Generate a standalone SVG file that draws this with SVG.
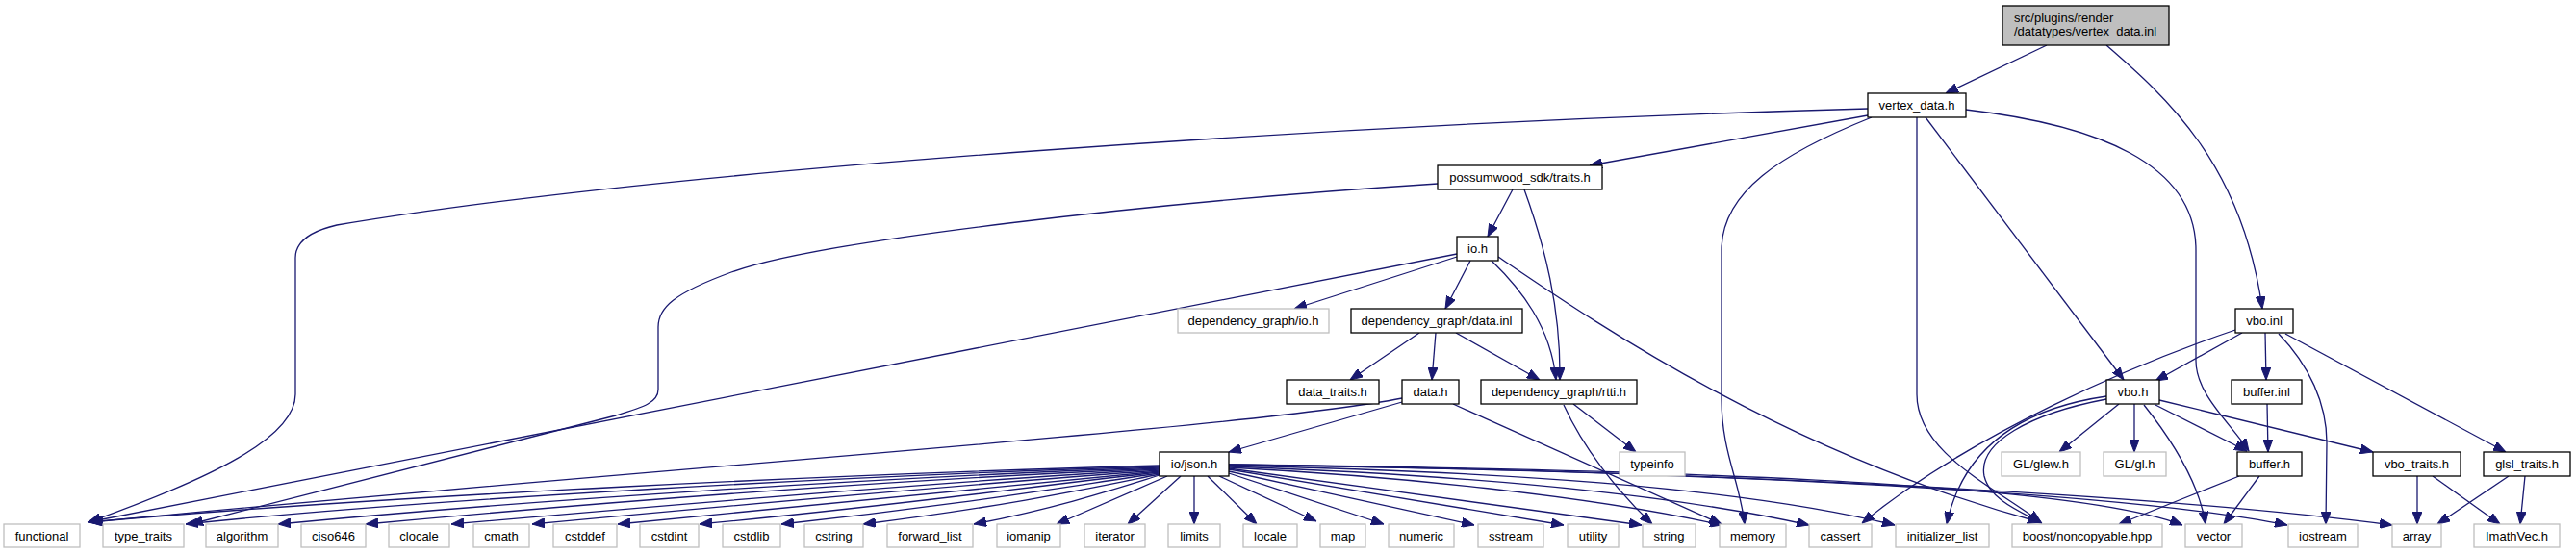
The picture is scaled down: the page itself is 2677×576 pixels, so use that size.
<svg xmlns="http://www.w3.org/2000/svg" width="2677" height="576" viewBox="0 0 2677 576">
<style>
.bg{fill:#ffffff}
.n rect{fill:#ffffff;stroke:#000000;stroke-width:1.3}
.x rect{fill:#ffffff;stroke:#bfbfbf;stroke-width:1.3}
.r rect{fill:#bfbfbf;stroke:#000000;stroke-width:1.3}
text{font-family:"Liberation Sans",Arial,Helvetica,sans-serif;font-size:13px;fill:#000000;text-anchor:middle}
.r text{text-anchor:start}
#edges path{fill:none;stroke:#191970;stroke-width:1.3;marker-end:url(#ah)}
</style>
<defs>
<marker id="ah" viewBox="0 0 13 10" refX="13" refY="5" markerWidth="13" markerHeight="10" markerUnits="userSpaceOnUse" orient="auto">
<path d="M0,0 L13,5 L0,10 z" fill="#191970" stroke="#191970" stroke-width="1"/>
</marker>
</defs>
<rect class="bg" x="0" y="0" width="2677" height="576"/>
<g id="edges">
<path d="M2127,47 L2022,97"/>
<path d="M2189,47 C2250,100 2330,170 2351,321"/>
<path d="M1941,113 C1400,128 700,175 350,234 C320,241 307,252 307,268 L307,410 C307,455 220,497 92,543"/>
<path d="M1941,120 L1652,172"/>
<path d="M1945,122 C1850,160 1789,200 1789,260 L1789,415 C1789,470 1808,500 1813,545"/>
<path d="M1992,122 L1992,410 C1992,470 2070,505 2121,543"/>
<path d="M2001,122 L2207,395"/>
<path d="M2043,114 C2180,130 2282,170 2282,260 L2282,375 C2282,410 2318,440 2337,469"/>
<path d="M2330,346 L2240,396"/>
<path d="M2323,343 C2220,378 2050,450 1935,544"/>
<path d="M2354,346 L2355,395"/>
<path d="M2368,347 C2400,380 2418,420 2418,460 L2417,545"/>
<path d="M2375,347 L2604,470"/>
<path d="M2202,420 L2140,470"/>
<path d="M2218,420 L2218,470"/>
<path d="M2228,421 C2255,455 2285,500 2292,545"/>
<path d="M2240,421 L2335,469"/>
<path d="M2244,416 L2466,470"/>
<path d="M2189,412 C2100,425 2040,465 2023,545"/>
<path d="M2189,415 C2110,430 2055,460 2062,495 C2068,520 2100,532 2122,544"/>
<path d="M2356,420 L2357,470"/>
<path d="M2327,495 L2202,545"/>
<path d="M2348,495 L2311,545"/>
<path d="M2512,495 L2512,545"/>
<path d="M2528,495 L2598,545"/>
<path d="M2607,495 L2533,545"/>
<path d="M2624,495 L2619,545"/>
<path d="M1572,197 L1546,246"/>
<path d="M1584,197 C1605,255 1622,320 1621,395"/>
<path d="M1494,191 C1200,210 850,250 760,283 C700,305 684,320 684,340 L684,405 C684,418 670,423 640,432 L198,545"/>
<path d="M1514,267 L1345,321"/>
<path d="M1514,264 L91,543"/>
<path d="M1528,271 L1502,321"/>
<path d="M1550,271 C1580,300 1612,340 1617,395"/>
<path d="M1557,267 C1650,330 1850,470 2120,543"/>
<path d="M1475,346 L1403,395"/>
<path d="M1492,346 L1488,395"/>
<path d="M1513,346 L1600,395"/>
<path d="M1457,418 L1277,470"/>
<path d="M1457,414 C1300,445 700,485 94,543"/>
<path d="M1510,420 L1789,545"/>
<path d="M1635,420 L1700,470"/>
<path d="M1625,421 C1645,465 1680,510 1717,545"/>
<path d="M1205,484 C900,492 400,515 93,543"/>
<path d="M1205,485 C900,494 450,518 193,545"/>
<path d="M1205,486 C920,496 550,520 289,545"/>
<path d="M1205,487 C950,498 650,520 380,545"/>
<path d="M1205,488 C1000,499 730,522 469,545"/>
<path d="M1205,489 C1050,500 800,522 553,545"/>
<path d="M1205,490 C1080,501 880,523 642,545"/>
<path d="M1205,491 C1100,502 950,524 727,545"/>
<path d="M1205,492 C1120,504 1000,525 812,545"/>
<path d="M1205,493 C1140,506 1050,526 897,545"/>
<path d="M1205,494 C1160,508 1100,528 1012,545"/>
<path d="M1213,495 L1098,545"/>
<path d="M1227,495 L1172,545"/>
<path d="M1241,495 L1241,545"/>
<path d="M1255,495 L1306,545"/>
<path d="M1267,495 L1368,542"/>
<path d="M1277,492 L1438,545"/>
<path d="M1277,490 L1532,546"/>
<path d="M1277,488 L1625,546"/>
<path d="M1277,487 L1706,546"/>
<path d="M1277,486 C1450,495 1650,515 1790,546"/>
<path d="M1277,485 C1500,493 1720,510 1880,546"/>
<path d="M1277,484 C1550,490 1800,505 1969,546"/>
<path d="M1277,483 C1700,488 2150,500 2268,546"/>
<path d="M1277,483 C1750,490 2200,510 2377,546"/>
<path d="M1277,483 C1800,490 2250,515 2486,546"/>
</g>
<g id="n_root" class="r"><rect x="2081" y="6" width="173" height="41"/><text x="2093" y="23">src/plugins/render</text><text x="2093" y="37">/datatypes/vertex_data.inl</text></g>
<g id="n_vertex_data_h" class="n"><rect x="1941" y="97" width="102" height="25"/><text x="1992" y="114">vertex_data.h</text></g>
<g id="n_traits_h" class="n"><rect x="1494" y="172" width="171" height="25"/><text x="1579.5" y="189">possumwood_sdk/traits.h</text></g>
<g id="n_io_h" class="n"><rect x="1514" y="246" width="43" height="25"/><text x="1535.5" y="263">io.h</text></g>
<g id="n_dg_io_h" class="x"><rect x="1224" y="321" width="157" height="25"/><text x="1302.5" y="338">dependency_graph/io.h</text></g>
<g id="n_dg_data_inl" class="n"><rect x="1404" y="321" width="178" height="25"/><text x="1493" y="338">dependency_graph/data.inl</text></g>
<g id="n_vbo_inl" class="n"><rect x="2323" y="321" width="60" height="25"/><text x="2353" y="338">vbo.inl</text></g>
<g id="n_data_traits_h" class="n"><rect x="1337" y="395" width="96" height="25"/><text x="1385" y="412">data_traits.h</text></g>
<g id="n_data_h" class="n"><rect x="1457" y="395" width="59" height="25"/><text x="1486.5" y="412">data.h</text></g>
<g id="n_rtti_h" class="n"><rect x="1539" y="395" width="162" height="25"/><text x="1620" y="412">dependency_graph/rtti.h</text></g>
<g id="n_vbo_h" class="n"><rect x="2189" y="395" width="55" height="25"/><text x="2216.5" y="412">vbo.h</text></g>
<g id="n_buffer_inl" class="n"><rect x="2319" y="395" width="73" height="25"/><text x="2355.5" y="412">buffer.inl</text></g>
<g id="n_json_h" class="n"><rect x="1205" y="470" width="72" height="25"/><text x="1241" y="487">io/json.h</text></g>
<g id="n_typeinfo" class="x"><rect x="1683" y="470" width="68" height="25"/><text x="1717" y="487">typeinfo</text></g>
<g id="n_glew" class="x"><rect x="2080" y="470" width="82" height="25"/><text x="2121" y="487">GL/glew.h</text></g>
<g id="n_gl" class="x"><rect x="2186" y="470" width="65" height="25"/><text x="2218.5" y="487">GL/gl.h</text></g>
<g id="n_buffer_h" class="n"><rect x="2325" y="470" width="67" height="25"/><text x="2358.5" y="487">buffer.h</text></g>
<g id="n_vbo_traits_h" class="n"><rect x="2466" y="470" width="91" height="25"/><text x="2511.5" y="487">vbo_traits.h</text></g>
<g id="n_glsl_traits_h" class="n"><rect x="2581" y="470" width="90" height="25"/><text x="2626" y="487">glsl_traits.h</text></g>
<g id="n_functional" class="x"><rect x="4" y="545" width="79" height="24"/><text x="43.5" y="562">functional</text></g>
<g id="n_type_traits" class="x"><rect x="107" y="545" width="84" height="24"/><text x="149" y="562">type_traits</text></g>
<g id="n_algorithm" class="x"><rect x="214" y="545" width="75" height="24"/><text x="251.5" y="562">algorithm</text></g>
<g id="n_ciso646" class="x"><rect x="313" y="545" width="67" height="24"/><text x="346.5" y="562">ciso646</text></g>
<g id="n_clocale" class="x"><rect x="404" y="545" width="63" height="24"/><text x="435.5" y="562">clocale</text></g>
<g id="n_cmath" class="x"><rect x="492" y="545" width="58" height="24"/><text x="521" y="562">cmath</text></g>
<g id="n_cstddef" class="x"><rect x="575" y="545" width="66" height="24"/><text x="608" y="562">cstddef</text></g>
<g id="n_cstdint" class="x"><rect x="665" y="545" width="61" height="24"/><text x="695.5" y="562">cstdint</text></g>
<g id="n_cstdlib" class="x"><rect x="751" y="545" width="60" height="24"/><text x="781" y="562">cstdlib</text></g>
<g id="n_cstring" class="x"><rect x="836" y="545" width="61" height="24"/><text x="866.5" y="562">cstring</text></g>
<g id="n_forward_list" class="x"><rect x="922" y="545" width="89" height="24"/><text x="966.5" y="562">forward_list</text></g>
<g id="n_iomanip" class="x"><rect x="1036" y="545" width="66" height="24"/><text x="1069" y="562">iomanip</text></g>
<g id="n_iterator" class="x"><rect x="1127" y="545" width="63" height="24"/><text x="1158.5" y="562">iterator</text></g>
<g id="n_limits" class="x"><rect x="1214" y="545" width="54" height="24"/><text x="1241" y="562">limits</text></g>
<g id="n_locale" class="x"><rect x="1292" y="545" width="56" height="24"/><text x="1320" y="562">locale</text></g>
<g id="n_map" class="x"><rect x="1372" y="545" width="47" height="24"/><text x="1395.5" y="562">map</text></g>
<g id="n_numeric" class="x"><rect x="1443" y="545" width="68" height="24"/><text x="1477" y="562">numeric</text></g>
<g id="n_sstream" class="x"><rect x="1536" y="545" width="68" height="24"/><text x="1570" y="562">sstream</text></g>
<g id="n_utility" class="x"><rect x="1629" y="545" width="53" height="24"/><text x="1655.5" y="562">utility</text></g>
<g id="n_string" class="x"><rect x="1707" y="545" width="55" height="24"/><text x="1734.5" y="562">string</text></g>
<g id="n_memory" class="x"><rect x="1787" y="545" width="69" height="24"/><text x="1821.5" y="562">memory</text></g>
<g id="n_cassert" class="x"><rect x="1880" y="545" width="65" height="24"/><text x="1912.5" y="562">cassert</text></g>
<g id="n_initializer_list" class="x"><rect x="1970" y="545" width="97" height="24"/><text x="2018.5" y="562">initializer_list</text></g>
<g id="n_boost" class="x"><rect x="2091" y="545" width="156" height="24"/><text x="2169" y="562">boost/noncopyable.hpp</text></g>
<g id="n_vector" class="x"><rect x="2271" y="545" width="59" height="24"/><text x="2300.5" y="562">vector</text></g>
<g id="n_iostream" class="x"><rect x="2378" y="545" width="72" height="24"/><text x="2414" y="562">iostream</text></g>
<g id="n_array" class="x"><rect x="2486" y="545" width="51" height="24"/><text x="2511.5" y="562">array</text></g>
<g id="n_imathvec" class="x"><rect x="2571" y="545" width="89" height="24"/><text x="2615.5" y="562">ImathVec.h</text></g>
</svg>
